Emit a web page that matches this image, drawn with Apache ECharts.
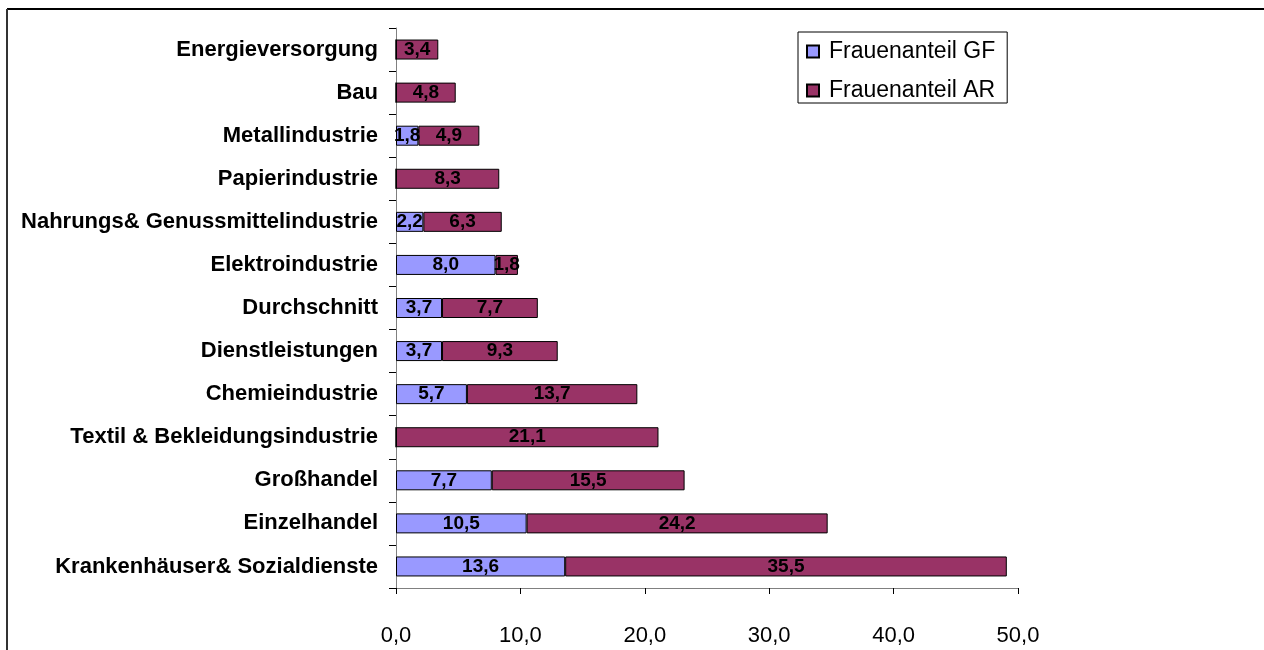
<!DOCTYPE html>
<html><head><meta charset="utf-8">
<script src="https://cdn.jsdelivr.net/npm/echarts@6/dist/echarts.min.js"></script>
<style>html,body{margin:0;padding:0;background:#fff}#c{width:1264px;height:650px}</style>
</head><body><div id="c"></div>
<script>
const categories = ['Krankenhäuser& Sozialdienste','Einzelhandel','Großhandel','Textil & Bekleidungsindustrie','Chemieindustrie','Dienstleistungen','Durchschnitt','Elektroindustrie','Nahrungs& Genussmittelindustrie','Papierindustrie','Metallindustrie','Bau','Energieversorgung'];
const gf = [13.6,10.5,7.7,0,5.7,3.7,3.7,8.0,2.2,0,1.8,0,0];
const ar = [35.5,24.2,15.5,21.1,13.7,9.3,7.7,1.8,6.3,8.3,4.9,4.8,3.4];
const xTicks = [0,10,20,30,40,50];
const FONT = 'Liberation Sans, Arial, sans-serif';
const fmt = v => v.toFixed(1).replace('.', ',');
const lbl = {show:true, position:'inside', color:'#000', fontWeight:'bold', fontSize:19, fontFamily:FONT,
  formatter: p => p.value ? fmt(p.value) : ''};
const chart = echarts.init(document.getElementById('c'), null, {renderer:'canvas'});
chart.setOption({
  animation:false,
  textStyle:{fontFamily:FONT},
  graphic:[
    {type:'line', shape:{x1:7,y1:9,x2:1264,y2:9}, style:{stroke:'#000', lineWidth:2}},
    {type:'line', shape:{x1:7,y1:9,x2:7,y2:650}, style:{stroke:'#333', lineWidth:2}}
  ],
  grid:{left:396, top:28, width:622, height:560, containLabel:false},
  legend:{
    orient:'vertical', left:798, top:32, padding:[8,12,1,8], itemGap:16,
    borderColor:'#000', borderWidth:1, itemWidth:12, itemHeight:12,
    textStyle:{fontSize:23, color:'#000', fontFamily:FONT, padding:[0,0,0,5]},
    data:[{name:'Frauenanteil GF', icon:'rect'},{name:'Frauenanteil AR', icon:'rect'}]
  },
  xAxis:{type:'value', min:xTicks[0], max:xTicks[xTicks.length-1], interval:10,
    axisLine:{show:true, lineStyle:{color:'#808080'}},
    axisTick:{show:true, length:6, lineStyle:{color:'#000'}},
    splitLine:{show:false},
    axisLabel:{formatter:v=>fmt(v), fontSize:22, color:'#000', margin:37, fontFamily:FONT}
  },
  yAxis:{type:'category', data:categories,
    axisLine:{show:true, lineStyle:{color:'#808080'}},
    axisTick:{show:true, length:7, lineStyle:{color:'#000'}},
    axisLabel:{fontSize:22, fontWeight:'bold', color:'#000', margin:18, fontFamily:FONT}
  },
  series:[
    {name:'Frauenanteil GF', type:'bar', stack:'s', data:gf, barWidth:20,
      itemStyle:{color:'#9999FF', borderColor:'#000', borderWidth:1}, label:lbl},
    {name:'Frauenanteil AR', type:'bar', stack:'s', data:ar, barWidth:20,
      itemStyle:{color:'#993366', borderColor:'#000', borderWidth:1}, label:lbl}
  ]
});
</script></body></html>
